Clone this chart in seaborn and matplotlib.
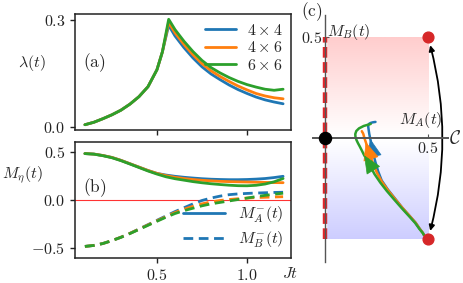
import numpy as np
import pandas as pd
import seaborn as sns
import matplotlib.pyplot as plt
from matplotlib.lines import Line2D

# lattice sizes
sizes = ['4x4', '4x6', '6x6']
size_labels = [r'$4\times4$', r'$4\times6$', r'$6\times6$']

# panel (a): lambda(t)
lam_t = [0.1, 0.15, 0.2, 0.25, 0.3, 0.35, 0.4, 0.45, 0.5, 0.53, 0.565,
         0.6, 0.65, 0.7, 0.75, 0.8, 0.85, 0.9, 0.95, 1.0, 1.05, 1.1, 1.15, 1.2]
lam_4x4 = [0.005, 0.012, 0.022, 0.033, 0.046, 0.063, 0.084, 0.112, 0.16, 0.21, 0.285,
           0.255, 0.222, 0.193, 0.168, 0.148, 0.132, 0.117, 0.104, 0.093, 0.083, 0.075, 0.069, 0.064]
lam_4x6 = [0.005, 0.012, 0.022, 0.033, 0.046, 0.063, 0.084, 0.112, 0.16, 0.21, 0.293,
           0.264, 0.231, 0.202, 0.177, 0.157, 0.141, 0.127, 0.114, 0.103, 0.093, 0.086, 0.081, 0.078]
lam_6x6 = [0.005, 0.012, 0.022, 0.033, 0.046, 0.063, 0.084, 0.112, 0.16, 0.21, 0.302,
           0.273, 0.240, 0.211, 0.186, 0.166, 0.151, 0.138, 0.127, 0.118, 0.111, 0.105, 0.102, 0.105]

# panel (b)/(c): M_A^-(t), M_B^-(t)
t = [0.1, 0.15, 0.2, 0.25, 0.3, 0.35, 0.4, 0.45, 0.5, 0.55, 0.6, 0.65,
     0.7, 0.75, 0.8, 0.85, 0.9, 0.95, 1.0, 1.05, 1.1, 1.15, 1.2]
mA_4x4 = [0.48, 0.475, 0.46, 0.44, 0.41, 0.375, 0.34, 0.305, 0.275, 0.258, 0.245, 0.235,
          0.227, 0.22, 0.215, 0.212, 0.21, 0.21, 0.212, 0.216, 0.222, 0.232, 0.245]
mA_4x6 = [0.48, 0.475, 0.46, 0.44, 0.41, 0.375, 0.34, 0.305, 0.275, 0.252, 0.235, 0.222,
          0.212, 0.204, 0.198, 0.193, 0.19, 0.188, 0.186, 0.184, 0.182, 0.18, 0.179]
mA_6x6 = [0.48, 0.474, 0.458, 0.437, 0.407, 0.372, 0.336, 0.3, 0.268, 0.24, 0.22, 0.205,
          0.19, 0.178, 0.168, 0.16, 0.153, 0.148, 0.147, 0.152, 0.165, 0.188, 0.222]
mB_4x4 = [-0.48, -0.47, -0.45, -0.42, -0.385, -0.345, -0.3, -0.255, -0.21, -0.165, -0.12, -0.08,
          -0.04, -0.005, 0.02, 0.04, 0.055, 0.063, 0.068, 0.072, 0.075, 0.078, 0.08]
mB_4x6 = [-0.48, -0.47, -0.45, -0.42, -0.385, -0.345, -0.302, -0.258, -0.215, -0.172, -0.13, -0.095,
          -0.065, -0.04, -0.02, -0.005, 0.005, 0.013, 0.02, 0.025, 0.028, 0.031, 0.034]
mB_6x6 = [-0.48, -0.47, -0.45, -0.42, -0.386, -0.347, -0.305, -0.262, -0.22, -0.178, -0.14, -0.11,
          -0.085, -0.06, -0.04, -0.025, -0.01, 0.005, 0.02, 0.035, 0.048, 0.06, 0.07]

# index on each trajectory where the direction arrow sits
arrow_idx = [12, 13, 11]

a_yticks = [0.0, 0.3]
b_yticks = [-0.5, 0.0, 0.5]
xticks = [0.5, 1.0]


def mlabels(vals):
    return [r'$%.1f$' % v if v >= 0 else r'$-%.1f$' % -v for v in vals]


sns.set_style('ticks')
plt.rcParams['mathtext.fontset'] = 'cm'
plt.rcParams['font.size'] = 11
colors = sns.color_palette('tab10', 3)
FS = 11.5

lam_df = pd.concat([pd.DataFrame({'t': lam_t, 'lam': v, 'size': s})
                    for s, v in zip(sizes, [lam_4x4, lam_4x6, lam_6x6])])
m_df = pd.concat([pd.DataFrame({'t': t, 'mA': a, 'mB': b, 'size': s})
                  for s, a, b in zip(sizes, [mA_4x4, mA_4x6, mA_6x6], [mB_4x4, mB_4x6, mB_6x6])])

fig = plt.figure(figsize=(4.64, 2.83), dpi=100)
ax_a = fig.add_axes([0.1616, 0.5406, 0.466, 0.41])
ax_b = fig.add_axes([0.1616, 0.0883, 0.466, 0.41])
ax_c = fig.add_axes([0.6746, 0.0742, 0.291, 0.873])

# (a)
for s, lab, c in zip(sizes, size_labels, colors):
    d = lam_df[lam_df['size'] == s]
    sns.lineplot(data=d, x='t', y='lam', color=c, lw=2, label=lab, ax=ax_a)
ax_a.legend(loc='upper right', frameon=False, fontsize=FS, handlelength=1.9,
            borderaxespad=0.15, labelspacing=0.15, handletextpad=0.7)
ax_a.set_xlim(0.045, 1.245)
ax_a.set_yticks(a_yticks)
ax_a.set_yticklabels(mlabels(a_yticks))
ax_a.set_xticks(xticks)
ax_a.tick_params(axis='x', length=0, labelbottom=False)
ax_a.set_xlabel('')
ax_a.set_ylabel('')
ax_a.text(0.035, 0.578, r'$\mathrm{(a)}$', transform=ax_a.transAxes, va='center', fontsize=FS + 1)

# (b)
ax_b.axhline(0, color='red', lw=0.8, alpha=0.8, zorder=1)
for s, c in zip(sizes, colors):
    d = m_df[m_df['size'] == s]
    sns.lineplot(data=d, x='t', y='mA', color=c, lw=2, ax=ax_b)
    sns.lineplot(data=d, x='t', y='mB', color=c, lw=2, ls=(0, (3.5, 2)), ax=ax_b)
handles = [Line2D([], [], color=colors[0], lw=2),
           Line2D([], [], color=colors[0], lw=2, ls=(0, (3.5, 2)))]
ax_b.legend(handles, [r'$M_A^{-}(t)$', r'$M_B^{-}(t)$'], loc='lower right', frameon=False,
            fontsize=FS, handlelength=2.6, borderaxespad=0.1, labelspacing=0.3)
ax_b.set_xlim(0.045, 1.245)
ax_b.set_ylim(-0.6, 0.6)
ax_b.set_xticks(xticks)
ax_b.set_xticklabels(mlabels(xticks))
ax_b.set_yticks(b_yticks)
ax_b.set_yticklabels(mlabels(b_yticks))
ax_b.set_xlabel('')
ax_b.set_ylabel('')
ax_b.text(0.035, 0.603, r'$\mathrm{(b)}$', transform=ax_b.transAxes, va='center', fontsize=FS + 1)
ax_b.text(0.995, -0.13, r'$Jt$', transform=ax_b.transAxes, ha='center', va='center', fontsize=FS)

for ax in (ax_a, ax_b):
    for sp in ax.spines.values():
        sp.set_linewidth(1.1)
        sp.set_color('#222222')
    ax.tick_params(colors='#222222', width=1, length=3.5, labelsize=FS)

fig.text(32 / 464, 1 - 63 / 283, r'$\lambda(t)$', ha='center', va='center', fontsize=FS)
fig.text(22 / 464, 1 - 175 / 283, r'$M_\eta(t)$', ha='center', va='center', fontsize=FS)

# (c) trajectories in the (M_A, M_B) plane
top = np.zeros((100, 1, 4))
top[:, 0, 0] = 1.0
top[:, 0, 3] = np.linspace(0.2, 0.0, 100)
bot = np.zeros((100, 1, 4))
bot[:, 0, 2] = 1.0
bot[:, 0, 3] = np.linspace(0.0, 0.2, 100)
ax_c.imshow(top, extent=[0, 0.5, 0, 0.5], aspect='auto', zorder=0)
ax_c.imshow(bot, extent=[0, 0.5, -0.5, 0], aspect='auto', zorder=0)

ax_c.plot([0, 0], [-0.5, 0.5], color='#e3262a', lw=3.2, dashes=(2.4, 1.0),
          gapcolor='white', zorder=1)

for s, c, i in zip(sizes, colors, arrow_idx):
    d = m_df[m_df['size'] == s]
    sns.lineplot(data=d, x='mA', y='mB', sort=False, estimator=None, color=c, lw=1.8, ax=ax_c)
    xa, ya = d['mA'].values, d['mB'].values
    ax_c.annotate('', xy=(xa[i + 1], ya[i + 1]), xytext=(xa[i], ya[i]),
                  arrowprops=dict(arrowstyle='-|>,head_length=0.8,head_width=0.35', color=c,
                                  lw=0.5, mutation_scale=15, shrinkA=0, shrinkB=0))

ax_c.annotate('', xy=(0.5, -0.5), xytext=(0.5, 0.5),
              arrowprops=dict(arrowstyle='<|-|>', connectionstyle='arc3,rad=-0.14',
                              color='black', lw=1.3, mutation_scale=8, shrinkA=6, shrinkB=6))
ax_c.scatter([0.5, 0.5], [0.5, -0.5], s=60, color='#d62728', zorder=5, clip_on=False)
ax_c.scatter([0], [0], s=75, color='black', zorder=6, clip_on=False)

ax_c.set_xlim(-0.058, 0.597)
ax_c.set_ylim(-0.614, 0.61)
ax_c.spines['left'].set_position(('data', 0))
ax_c.spines['bottom'].set_position(('data', 0))
ax_c.spines['top'].set_visible(False)
ax_c.spines['right'].set_visible(False)
for k in ('left', 'bottom'):
    ax_c.spines[k].set_color('#555555')
    ax_c.spines[k].set_linewidth(1.4)
    ax_c.spines[k].set_zorder(3)
ax_c.spines['left'].set_linewidth(1.0)
ax_c.set_xticks([0.5])
ax_c.set_yticks([0.5])
ax_c.set_xticklabels([r'$0.5$'])
ax_c.set_yticklabels([r'$0.5$'])
ax_c.tick_params(direction='in', length=3, color='#555555', labelsize=FS, pad=2)
ax_c.set_xlabel('')
ax_c.set_ylabel('')
ax_c.text(0.01, 0.525, r'$M_B(t)$', ha='left', va='center', fontsize=FS)
ax_c.text(0.466, 0.09, r'$M_A(t)$', ha='center', va='center', fontsize=FS)
ax_c.text(0.6, 0.0, r'$\mathcal{C}$', ha='left', va='center', fontsize=FS + 2)
fig.text(0.648, 0.958, r'$\mathrm{(c)}$', ha='left', va='center', fontsize=FS + 1)

fig.savefig('out.png', dpi=100)
